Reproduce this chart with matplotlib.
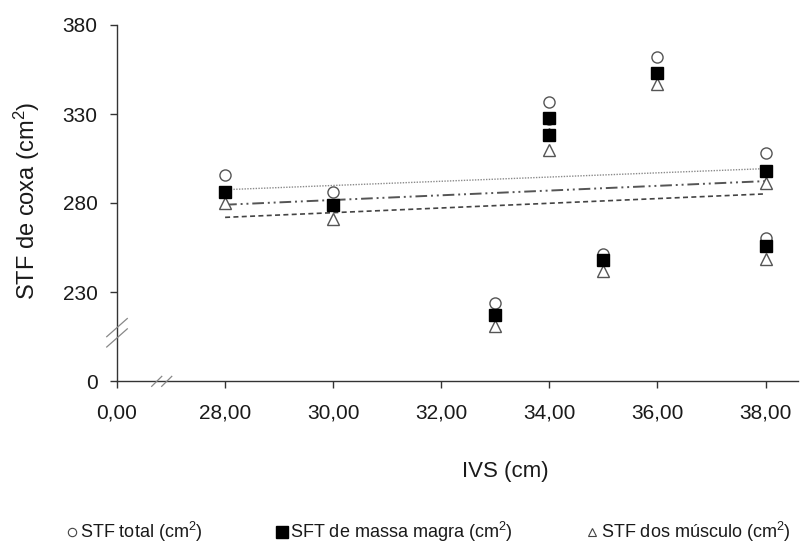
import numpy as np
import matplotlib.pyplot as plt
from matplotlib.lines import Line2D

plt.rcParams['font.family'] = ['Liberation Sans', 'DejaVu Sans']
plt.rcParams['mathtext.fontset'] = 'custom'
plt.rcParams['mathtext.rm'] = 'Liberation Sans'
plt.rcParams['mathtext.it'] = 'Liberation Sans'

# IVS (cm) of each subject
ivs = [28, 30, 33, 34, 34, 35, 36, 38, 38]
# thigh cross-sectional areas (cm2)
stf_total = [295.7, 286.2, 223.8, 336.7, 327.0, 251.3, 362.0, 308.0, 260.5]
sft_magra = [286.2, 278.9, 217.0, 327.8, 318.2, 248.0, 353.0, 298.0, 255.8]
stf_musculo = [280.0, 271.0, 210.9, 318.8, 309.8, 241.8, 346.7, 291.1, 248.5]

x_ticks = [26, 28, 30, 32, 34, 36, 38]
x_ticklabels = ['0,00', '28,00', '30,00', '32,00', '34,00', '36,00', '38,00']
y_ticks = [180, 230, 280, 330, 380]
y_ticklabels = ['0', '230', '280', '330', '380']

legend_labels = [r'STF total (cm$^2$)', r'SFT de massa magra (cm$^2$)',
                 r'STF dos músculo (cm$^2$)']

axis_col = '#333333'
text_col = '#1a1a1a'

fig = plt.figure(figsize=(8, 5.43), dpi=100)
ax = fig.add_axes([117 / 800, 1 - 381 / 543, 681 / 800, 356 / 543])

ax.plot(ivs, stf_total, 'o', ms=8, mfc='white', mec='#555555', mew=1.0, zorder=3)
ax.plot(ivs, sft_magra, 's', ms=8, mfc='black', mec='black', zorder=4)
ax.plot(ivs, stf_musculo, '^', ms=8.5, mfc='white', mec='#555555', mew=1.0, zorder=3)

# linear trend lines
xs = np.array([min(ivs), max(ivs)])
styles = [
    dict(color='#8a8a8a', lw=1.0, ls=(0, (1, 1))),
    dict(color='#555555', lw=1.4, ls=(0, (6, 2, 1, 2, 1, 2))),
    dict(color='#444444', lw=1.2, ls=(0, (3, 2))),
]
for ys, st in zip([stf_total, sft_magra, stf_musculo], styles):
    a, b = np.polyfit(ivs, ys, 1)
    ax.plot(xs, a * xs + b, zorder=2, **st)

ax.set_xlim(26, 38.6)
ax.set_ylim(180, 380)
ax.set_xticks(x_ticks)
ax.set_xticklabels(x_ticklabels)
ax.set_yticks(y_ticks)
ax.set_yticklabels(y_ticklabels)
ax.tick_params(direction='out', length=5, width=1, colors=axis_col, labelsize=15,
               labelcolor=text_col)
ax.tick_params(axis='x', pad=11)
ax.tick_params(axis='y', pad=9)
for s in ['top', 'right']:
    ax.spines[s].set_visible(False)
for s in ['left', 'bottom']:
    ax.spines[s].set_color(axis_col)
    ax.spines[s].set_linewidth(1.0)

fig.text(27 / 800, 1 - 201 / 543, r'STF de coxa (cm$^2$)', rotation=90,
         ha='center', va='center', fontsize=17, color=text_col)
fig.text(505 / 800, 1 - 471 / 543, 'IVS (cm)', ha='center', va='center',
         fontsize=16, color=text_col)

# axis break marks
brk = dict(color='#888888', lw=0.9, clip_on=False, zorder=5)
for yc in [210.0, 204.2]:
    ax.plot([25.81, 26.19], [yc - 5.1, yc + 5.1], **brk)
for xc in [26.735, 26.92]:
    ax.plot([xc - 0.093, xc + 0.093], [177.0, 182.6], **brk)

handles = [
    Line2D([], [], ls='none', marker='o', ms=6, mfc='white', mec='#444444', mew=0.8),
    Line2D([], [], ls='none', marker='s', ms=8, mfc='black', mec='black'),
    Line2D([], [], ls='none', marker='^', ms=6, mfc='white', mec='#444444', mew=0.8),
]
fig.legend(handles, legend_labels, ncol=3, loc='center', bbox_to_anchor=(0.5356, 0.02),
           frameon=False, fontsize=13, handlelength=0.6, handletextpad=0.15,
           columnspacing=4.1, labelcolor=text_col, borderpad=0.1)

fig.savefig('out.png', dpi=100, facecolor='white')
